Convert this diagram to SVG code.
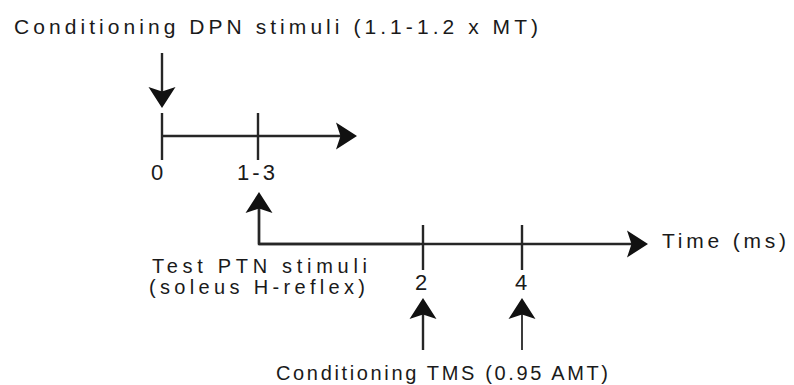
<svg xmlns="http://www.w3.org/2000/svg" width="794" height="385" viewBox="0 0 794 385">
<style>
text{font-family:"Liberation Sans",Arial,sans-serif;fill:#1a1a1a}
.ln{stroke:#262626;stroke-width:2.4;fill:none}
.thin{stroke-width:1.8}
.arr{marker-end:url(#ah)}
.num{font-size:22px;text-anchor:middle}
</style>
<defs>
<marker id="ah" markerUnits="userSpaceOnUse" viewBox="-20 -16 26 32" markerWidth="26" markerHeight="32" refX="0" refY="0" orient="auto">
<path d="M4,0 L-17,-13.5 L-12.5,0 L-17,13.5 Z" fill="#111"/>
</marker>
</defs>
<rect width="794" height="385" fill="#fff"/>
<g id="connectors">
<line class="ln arr" x1="162" y1="53" x2="162" y2="104"/>
<line class="ln" x1="162" y1="113" x2="162" y2="160"/>
<line class="ln" x1="258" y1="113" x2="258" y2="160"/>
<line class="ln arr" x1="162" y1="136" x2="353" y2="136"/>
<path class="ln" d="M259,196 V244 H420"/>
<line class="ln arr" x1="259" y1="244" x2="644" y2="244"/>
<line class="ln arr" x1="259" y1="244" x2="259" y2="196"/>
<line class="ln" x1="423" y1="225" x2="423" y2="270"/>
<line class="ln" x1="522" y1="225" x2="522" y2="270"/>
<line class="ln arr" x1="423" y1="350" x2="423" y2="302"/>
<line class="ln thin arr" x1="522" y1="350" x2="522" y2="302"/>
</g>
<g id="title-dpn"><text x="14" y="34" font-size="21" textLength="524" lengthAdjust="spacing">Conditioning DPN stimuli (1.1-1.2 x MT)</text></g>
<g id="label-0"><text class="num" x="157" y="180">0</text></g>
<g id="label-1-3"><text class="num" x="256" y="180" textLength="38" lengthAdjust="spacing">1-3</text></g>
<g id="label-test"><text x="152" y="273" font-size="20" textLength="215" lengthAdjust="spacing">Test PTN stimuli</text><text x="149" y="294" font-size="20" textLength="216" lengthAdjust="spacing">(soleus H-reflex)</text></g>
<g id="label-2"><text class="num" x="421" y="290">2</text></g>
<g id="label-4"><text class="num" x="521" y="290">4</text></g>
<g id="label-time"><text x="662" y="248" font-size="21" textLength="124" lengthAdjust="spacing">Time (ms)</text></g>
<g id="label-tms"><text x="276" y="380" font-size="20" textLength="332" lengthAdjust="spacing">Conditioning TMS (0.95 AMT)</text></g>
</svg>
